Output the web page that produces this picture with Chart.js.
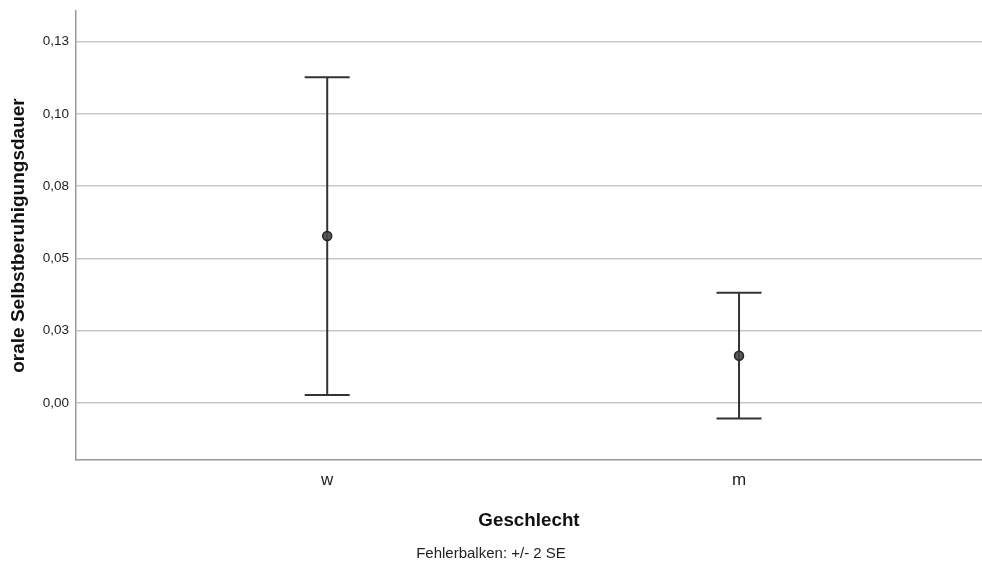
<!DOCTYPE html>
<html>
<head>
<meta charset="utf-8">
<script src="https://cdn.jsdelivr.net/npm/chart.js@4"></script>
<style>
  body { margin: 0; background: #fff; }
</style>
</head>
<body>
<canvas id="errChart" width="982" height="568"></canvas>
<script>
// Gruppen und Werte (Mittelwert +/- 2 SE)
const categories = ['w', 'm'];
const means = [0.0577, 0.0163];
const upper = [0.1127, 0.0381];
const lower = [0.0027, -0.0054];

const yTickValues = [0, 0.025, 0.05, 0.075, 0.1, 0.125];
const yTickLabels = ['0,00', '0,03', '0,05', '0,08', '0,10', '0,13'];

const points = categories.map((c, i) => ({ x: i + 1, y: means[i] }));

const FONT = "'Liberation Sans', Arial, sans-serif";

// Fehlerbalken zeichnen (unter den Punkten)
const errorBars = {
    id: 'errorBars',
    beforeDatasetsDraw(chart) {
        const ctx = chart.ctx;
        const xs = chart.scales.x, ys = chart.scales.y;
        ctx.save();
        ctx.strokeStyle = '#333333';
        ctx.lineWidth = 2;
        for (let i = 0; i < categories.length; i++) {
            const px = xs.getPixelForValue(i + 1);
            const top = ys.getPixelForValue(upper[i]);
            const bot = ys.getPixelForValue(lower[i]);
            ctx.beginPath();
            ctx.moveTo(px, top); ctx.lineTo(px, bot);
            ctx.moveTo(px - 22.5, top); ctx.lineTo(px + 22.5, top);
            ctx.moveTo(px - 22.5, bot); ctx.lineTo(px + 22.5, bot);
            ctx.stroke();
        }
        ctx.restore();
    }
};

const config = {
    type: 'scatter',
    data: {
        datasets: [{
            label: 'Mittelwert',
            data: points,
            pointRadius: 4.5,
            pointHoverRadius: 4.5,
            backgroundColor: 'rgba(70,70,70,0.9)',
            borderColor: '#222222',
            borderWidth: 1.5,
        }]
    },
    options: {
        responsive: false,
        animation: false,
        layout: { autoPadding: false, padding: { top: 11, right: 0, left: 0, bottom: 0 } },
        plugins: {
            legend: { display: false },
            tooltip: { enabled: false },
            title: {
                display: true,
                position: 'bottom',
                text: 'Fehlerbalken: +/- 2 SE',
                color: '#222',
                font: { family: FONT, size: 15, weight: 'normal' },
                padding: { top: 0, bottom: 5 }
            }
        },
        scales: {
            x: {
                type: 'linear',
                min: 0.39,
                max: 2.59,
                afterFit(scale) {
                    scale.height = 85;
                    scale.paddingLeft = 0; scale.paddingRight = 0;
                },
                afterBuildTicks(scale) { scale.ticks = categories.map((c, i) => ({ value: i + 1 })); },
                ticks: {
                    padding: 10,
                    color: '#222',
                    font: { family: FONT, size: 17 },
                    callback: (v) => categories[v - 1]
                },
                grid: { display: false, drawTicks: false },
                border: { color: '#9a9a9a', width: 1.5 },
                title: {
                    display: true,
                    text: 'Geschlecht',
                    color: '#111',
                    font: { family: FONT, size: 18.8, weight: 'bold' },
                    padding: 13
                }
            },
            y: {
                min: -0.0198,
                max: 0.1356,
                afterFit(scale) {
                    scale.width = 76;
                    scale.paddingTop = 0; scale.paddingBottom = 0;
                },
                afterBuildTicks(scale) { scale.ticks = yTickValues.map(v => ({ value: v })); },
                ticks: {
                    padding: 7,
                    color: '#222',
                    font: { family: FONT, size: 13.5 },
                    callback: (v) => yTickLabels[yTickValues.indexOf(v)]
                },
                grid: { color: '#c8c8c8', lineWidth: 1.5, drawTicks: false },
                border: { color: '#9a9a9a', width: 1.5 },
                title: {
                    display: true,
                    text: 'orale Selbstberuhigungsdauer',
                    color: '#111',
                    font: { family: FONT, size: 19, weight: 'bold' },
                    padding: 7
                }
            }
        }
    },
    plugins: [errorBars]
};

new Chart(document.querySelector('#errChart').getContext('2d'), config);
</script>
</body>
</html>
